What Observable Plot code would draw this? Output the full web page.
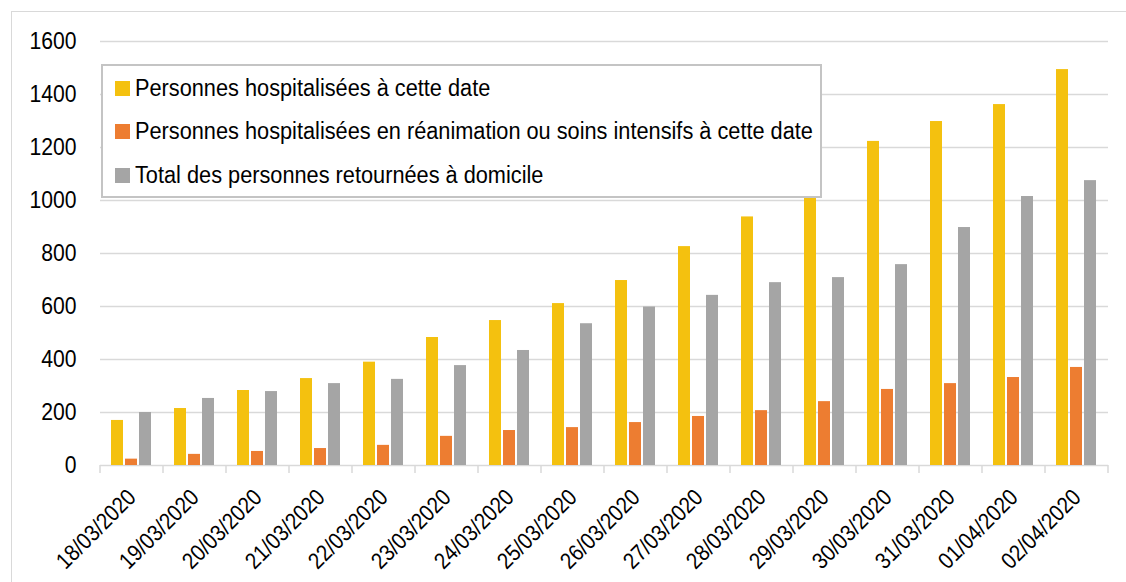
<!DOCTYPE html>
<html><head><meta charset="utf-8">
<script src="https://cdn.jsdelivr.net/npm/d3@7"></script>
<script src="https://cdn.jsdelivr.net/npm/@observablehq/plot@0.6"></script>
<style>
html,body{margin:0;padding:0;background:#fff;}
#wrap{position:relative;width:1126px;height:582px;overflow:hidden;font-family:"Liberation Sans",Arial,sans-serif;}
#border{position:absolute;left:11px;top:11px;width:1200px;height:700px;border:1.5px solid #d9d9d9;box-sizing:border-box;}
#chart{position:absolute;left:0;top:0;}
#legend{position:absolute;left:101px;top:64px;width:717px;height:130px;border:2px solid #c4c4c4;background:#fff;}
.item{position:absolute;left:12px;display:flex;align-items:center;font-size:23.5px;color:#000;white-space:nowrap;height:28px;}
.sw{width:15px;height:15px;margin-right:5px;flex:none;}
.item span{display:inline-block;transform:scaleX(0.925);transform-origin:left center;}
</style></head><body>
<div id="wrap"><div id="border"></div><div id="chart"></div><div id="legend"></div></div>
<script>
const dates = ["18/03/2020","19/03/2020","20/03/2020","21/03/2020","22/03/2020","23/03/2020","24/03/2020","25/03/2020","26/03/2020","27/03/2020","28/03/2020","29/03/2020","30/03/2020","31/03/2020","01/04/2020","02/04/2020"];
const hospitalises = [170, 215, 283, 328, 390, 483, 547, 611, 698, 826, 938, 1070, 1223, 1298, 1362, 1494];
const reanimation = [24, 42, 53, 64, 76, 110, 132, 143, 162, 185, 207, 241, 287, 309, 332, 370];
const domicile = [200, 253, 279, 309, 325, 377, 434, 535, 598, 642, 690, 709, 758, 898, 1015, 1075];
const series = ["Personnes hospitalisées à cette date", "Personnes hospitalisées en réanimation ou soins intensifs à cette date", "Total des personnes retournées à domicile"];
const colors = ["#F4C10F", "#ED7D31", "#A5A5A5"];
const yTicks = [0, 200, 400, 600, 800, 1000, 1200, 1400, 1600];

const values = [hospitalises, reanimation, domicile];
const data = dates.flatMap((d, i) => series.map((s, j) => ({date: d, series: s, value: values[j][i]})));

const plot = Plot.plot({
  width: 1126, height: 582,
  marginLeft: 100, marginRight: 18, marginTop: 41, marginBottom: 117,
  style: {fontFamily: '"Liberation Sans", Arial, sans-serif', fontSize: "23.5px", color: "#000", background: "transparent", overflow: "visible"},
  fx: {domain: dates, padding: 0, label: null},
  x: {domain: series, paddingInner: 0.13, paddingOuter: 0.8, axis: null},
  y: {domain: [0, 1600], label: null},
  color: {domain: series, range: colors},
  marks: [
    Plot.gridY(yTicks, {stroke: "#d9d9d9", strokeOpacity: 1, strokeWidth: 1.5}),
    Plot.barY(data, {fx: "date", x: "series", y: "value", fill: "series"}),
    Plot.axisY(yTicks, {tickSize: 0, tickPadding: 24, fontSize: 23.5, label: null, tickFormat: d => String(d)}),
    Plot.axisFx({anchor: "bottom", tickRotate: -45, tickSize: 0, tickPadding: 10, fontSize: 23, label: null, dx: 0, dy: 18})
  ]
});
document.getElementById("chart").appendChild(plot);

const svg = d3.select(plot);
// condense glyphs horizontally (narrow Arial look of the reference)
function condense(sel, k) {
  sel.each(function () {
    const t = d3.select(this);
    const tr = t.attr("transform");
    if (tr) t.attr("transform", tr + ` scale(${k},1)`);
    else {
      const x = +t.attr("x") || 0, y = +t.attr("y") || 0;
      t.attr("x", null).attr("y", null).attr("transform", `translate(${x},${y}) scale(${k},1)`);
    }
  });
}
condense(svg.selectAll('g[aria-label="y-axis tick label"] text'), 0.9);
condense(svg.selectAll('g[aria-label="fx-axis tick label"] text'), 0.88);

// boundary ticks below the axis, from the fx scale
const fx = plot.scale("fx"), ys = plot.scale("y");
const y0 = ys.apply(0);
const bounds = dates.map(d => fx.apply(d)).concat([fx.apply(dates[dates.length - 1]) + fx.bandwidth]);
svg.append("g").selectAll("line").data(bounds).join("line")
  .attr("x1", d => d).attr("x2", d => d)
  .attr("y1", y0).attr("y2", y0 + 8)
  .attr("stroke", "#d9d9d9").attr("stroke-width", 1.5);

// legend
const legend = d3.select("#legend");
const tops = [8, 51, 95];
series.forEach((s, i) => {
  const it = legend.append("div").attr("class", "item").style("top", tops[i] + "px");
  it.append("div").attr("class", "sw").style("background", colors[i]);
  it.append("span").text(s);
});
</script>
</body></html>
